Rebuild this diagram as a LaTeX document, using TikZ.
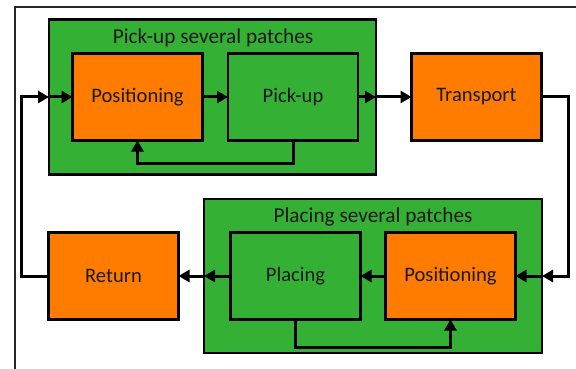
\documentclass[tikz,border=0pt]{standalone}
\usepackage{fontspec}
\setmainfont{Carlito}
\usetikzlibrary{arrows.meta}
\definecolor{boxgreen}{RGB}{52,176,52}
\definecolor{boxorange}{RGB}{255,124,0}
\definecolor{inkdark}{RGB}{26,26,26}
\begin{document}
\begin{tikzpicture}[x=1pt,y=-1pt,
  box/.style={draw=black, line width=2.6pt, rectangle, inner sep=0pt, outer sep=0pt,
    minimum width=130pt, minimum height=87pt, text=inkdark,
    font=\fontsize{20.6}{24}\selectfont},
  stage/.style={box, fill=boxorange},
  task/.style={box, fill=boxgreen},
  group/.style={draw=black, line width=2.6pt, fill=boxgreen, rectangle, inner sep=0pt, outer sep=0pt},
  grouptitle/.style={text=inkdark, inner sep=0pt, font=\fontsize{21.3}{25}\selectfont},
  conn/.style={draw=black, line width=3pt, line join=miter,
    -{Triangle[length=11pt,width=12pt]}}]
\useasboundingbox (0,0) rectangle (576,369);
\fill[white] (0,0) rectangle (576,369);

% outer frame
\draw[line width=2.6pt, black!35] (15,369) -- (15,7) -- (576,7);
\draw[line width=1.3pt, black!85] (15,369) -- (15,7) -- (576,7);

% group containers
\node[group, minimum width=327pt, minimum height=155pt] (G1) at (212.5,97) {};
\node[group, minimum width=338pt, minimum height=154pt] (G2) at (373,276) {};
\node[grouptitle] (G1t) at (213,38) {Pick-up several patches};
\node[grouptitle] (G2t) at (373,217) {Placing several patches};

% stages
\node[stage] (P1) at (137.5,97) {Positioning};
\node[task]  (K1) at (293,97)   {Pick-up};
\node[stage] (T)  at (476.5,97) {Transport};
\node[stage] (P2) at (450.5,276) {Positioning};
\node[task]  (L)  at (295.5,276) {Placing};
\node[stage] (R)  at (113.5,276) {Return};

% top row flow
\draw[conn] (R.west) -- ++(-27,0) |- (G1.west);
\draw[conn] (G1.west) -- (P1.west);
\draw[conn] (P1.east) -- (K1.west);
\draw[conn] (K1.east) -- (G1.east);
\draw[conn] (G1.east) -- (T.west);
\draw[conn] (K1.south) -- ++(0,23) -| (P1.south);

% bottom row flow
\draw[conn] (T.east) -- ++(27,0) |- (G2.east);
\draw[conn] (G2.east) -- (P2.east);
\draw[conn] (P2.west) -- (L.east);
\draw[conn] (L.west) -- (G2.west);
\draw[conn] (G2.west) -- (R.east);
\draw[conn] (L.south) -- ++(0,28) -| (P2.south);
\end{tikzpicture}
\end{document}
